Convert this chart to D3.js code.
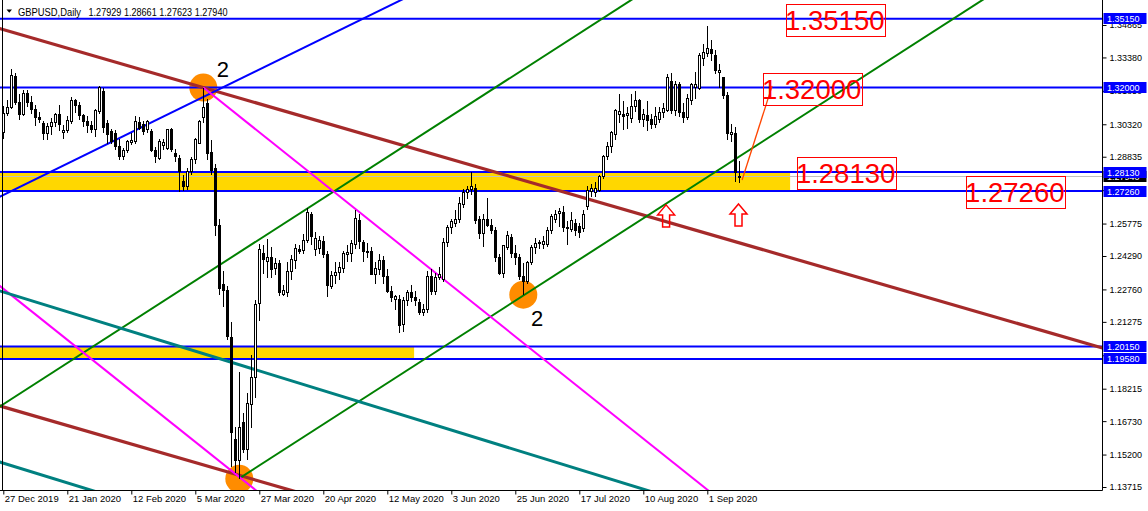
<!DOCTYPE html>
<html><head><meta charset="utf-8">
<script src="https://cdn.jsdelivr.net/npm/d3@7"></script>
<style>
html,body{margin:0;padding:0;background:#fff;}
svg{display:block;}
text{font-family:"Liberation Sans",Arial,sans-serif;}
</style></head><body>
<svg id="chart" width="1148" height="511"></svg>
<script>
// ---------------- DATA ----------------
const symbol = "GBPUSD", timeframe = "Daily";
const openP = [1.2995,1.3080,1.3110,1.3250,1.3130,1.3075,1.3175,1.3130,1.3100,1.3065,
1.3035,1.2990,1.3020,1.3040,1.3075,1.2995,1.3005,1.3045,1.3140,1.3120,
1.3070,1.3045,1.3025,1.3010,1.3090,1.3180,1.3035,1.2998,1.2990,1.2930,
1.2884,1.2911,1.2948,1.2952,1.3040,1.3029,1.3006,1.3000,1.2914,1.2876,
1.2933,1.2922,1.3006,1.2899,1.2876,1.2769,1.2746,1.2815,1.2869,1.2945,
1.3065,1.3128,1.2905,1.2830,1.2570,1.2300,1.2270,1.2054,1.1587,1.1495,
1.1669,1.1541,1.1747,1.1871,1.2210,1.2440,1.2405,1.2420,1.2370,1.2395,
1.2255,1.2260,1.2360,1.2410,1.2460,1.2455,1.2500,1.2620,1.2460,1.2465,
1.2495,1.2435,1.2290,1.2340,1.2355,1.2370,1.2435,1.2440,1.2480,1.2590,
1.2490,1.2450,1.2450,1.2345,1.2365,1.2410,1.2335,1.2265,1.2232,1.2230,
1.2115,1.2225,1.2260,1.2240,1.2215,1.2170,1.2185,1.2335,1.2265,1.2330,
1.2320,1.2490,1.2560,1.2580,1.2595,1.2665,1.2720,1.2735,1.2740,1.2595,
1.2530,1.2595,1.2570,1.2545,1.2420,1.2350,1.2470,1.2515,1.2440,1.2420,
1.2335,1.2310,1.2400,1.2470,1.2485,1.2480,1.2480,1.2544,1.2597,1.2625,
1.2630,1.2560,1.2550,1.2580,1.2565,1.2553,1.2655,1.2722,1.2720,1.2731,
1.2792,1.2884,1.2930,1.2983,1.3075,1.3075,1.3070,1.3060,1.3115,1.3143,
1.3052,1.3070,1.3052,1.3029,1.3052,1.3088,1.3097,1.3230,1.3094,1.3215,
1.3088,1.3062,1.3143,1.3200,1.3198,1.3334,1.3357,1.3376,1.3345,1.3267,
1.3244,1.3162,1.2983,1.2988,1.27929];
const highP = [1.3115,1.3145,1.3284,1.3267,1.3170,1.3190,1.3190,1.3160,1.3120,1.3090,
1.3045,1.3040,1.3060,1.3085,1.3120,1.3030,1.3070,1.3155,1.3150,1.3135,
1.3080,1.3070,1.3045,1.3100,1.3207,1.3200,1.3050,1.3010,1.3005,1.2966,
1.2925,1.2960,1.2990,1.3070,1.3065,1.3045,1.3050,1.3010,1.2930,1.2965,
1.2965,1.3010,1.3015,1.2920,1.2890,1.2800,1.2830,1.2880,1.2970,1.3050,
1.3200,1.3150,1.2960,1.2850,1.2600,1.2360,1.2290,1.2127,1.1646,1.1900,
1.1710,1.1802,1.1976,1.2228,1.2485,1.2480,1.2505,1.2470,1.2420,1.2410,
1.2295,1.2400,1.2435,1.2485,1.2480,1.2530,1.2650,1.2630,1.2540,1.2520,
1.2520,1.2450,1.2360,1.2400,1.2400,1.2450,1.2480,1.2500,1.2640,1.2620,
1.2500,1.2490,1.2470,1.2400,1.2440,1.2430,1.2370,1.2290,1.2250,1.2250,
1.2240,1.2275,1.2295,1.2270,1.2230,1.2210,1.2360,1.2370,1.2350,1.2380,
1.2510,1.2570,1.2600,1.2640,1.2700,1.2735,1.2750,1.2813,1.2760,1.2610,
1.2620,1.2694,1.2600,1.2560,1.2440,1.2480,1.2545,1.2530,1.2480,1.2440,
1.2395,1.2405,1.2480,1.2510,1.2500,1.2520,1.2560,1.2620,1.2640,1.2650,
1.2660,1.2590,1.2630,1.2600,1.2580,1.2640,1.2750,1.2760,1.2770,1.2800,
1.2890,1.2950,1.3000,1.3100,1.3170,1.3140,1.3110,1.3170,1.3185,1.3150,
1.3100,1.3140,1.3080,1.3110,1.3110,1.3130,1.3260,1.3265,1.3230,1.3225,
1.3130,1.3170,1.3220,1.3270,1.3360,1.3400,1.3482,1.3420,1.3370,1.3310,
1.3250,1.3180,1.3035,1.3021,1.28661];
const lowP = [1.2965,1.3070,1.3100,1.3120,1.3050,1.3070,1.3110,1.3080,1.3025,1.3040,
1.2960,1.2960,1.2985,1.3020,1.3000,1.2965,1.2990,1.3035,1.3085,1.3050,
1.3020,1.2990,1.2990,1.2975,1.3080,1.2990,1.2940,1.2940,1.2915,1.2870,
1.2870,1.2900,1.2935,1.2940,1.3005,1.2985,1.2990,1.2905,1.2853,1.2870,
1.2915,1.2915,1.2905,1.2860,1.2724,1.2725,1.2730,1.2800,1.2850,1.2940,
1.3040,1.2870,1.2800,1.2520,1.2250,1.2195,1.2045,1.1463,1.1436,1.1409,
1.1527,1.1495,1.1642,1.1779,1.2130,1.2345,1.2330,1.2330,1.2340,1.2245,
1.2245,1.2240,1.2320,1.2370,1.2440,1.2440,1.2490,1.2480,1.2430,1.2440,
1.2420,1.2240,1.2280,1.2300,1.2320,1.2350,1.2400,1.2400,1.2460,1.2460,
1.2400,1.2420,1.2340,1.2300,1.2340,1.2300,1.2260,1.2220,1.2180,1.2075,
1.2080,1.2200,1.2220,1.2200,1.2160,1.2155,1.2170,1.2250,1.2250,1.2320,
1.2310,1.2470,1.2530,1.2560,1.2580,1.2650,1.2690,1.2710,1.2575,1.2505,
1.2470,1.2560,1.2530,1.2400,1.2340,1.2330,1.2455,1.2420,1.2390,1.2320,
1.2252,1.2300,1.2390,1.2440,1.2460,1.2460,1.2470,1.2530,1.2580,1.2560,
1.2540,1.2480,1.2540,1.2520,1.2510,1.2540,1.2640,1.2700,1.2700,1.2720,
1.2780,1.2870,1.2900,1.2960,1.3040,1.3005,1.3010,1.3040,1.3090,1.3040,
1.3020,1.3000,1.3010,1.3015,1.3040,1.3060,1.3090,1.3080,1.3070,1.3065,
1.3040,1.3050,1.3120,1.3150,1.3190,1.3300,1.3340,1.3320,1.3260,1.3200,
1.3150,1.2960,1.2950,1.2770,1.27623];
const closeP = [1.3080,1.3110,1.3255,1.3130,1.3075,1.3175,1.3130,1.3100,1.3065,1.3055,
1.2990,1.3020,1.3040,1.3075,1.3030,1.3005,1.3050,1.3140,1.3120,1.3070,
1.3045,1.3025,1.3010,1.3095,1.3200,1.3015,1.2985,1.2952,1.2930,1.2884,
1.2911,1.2952,1.2960,1.3044,1.3014,1.2998,1.3044,1.2914,1.2884,1.2952,
1.2948,1.3006,1.2918,1.2884,1.2815,1.2746,1.2815,1.2872,1.2963,1.3047,
1.3110,1.2899,1.2820,1.2570,1.2280,1.2270,1.2060,1.1619,1.1495,1.1642,
1.1541,1.1756,1.1875,1.2209,1.2457,1.2415,1.2420,1.2365,1.2395,1.2264,
1.2270,1.2360,1.2415,1.2465,1.2450,1.2500,1.2626,1.2518,1.2510,1.2500,
1.2435,1.2295,1.2340,1.2355,1.2375,1.2440,1.2443,1.2485,1.2600,1.2495,
1.2450,1.2445,1.2345,1.2370,1.2410,1.2335,1.2265,1.2240,1.2242,1.2113,
1.2225,1.2260,1.2240,1.2225,1.2170,1.2185,1.2335,1.2265,1.2330,1.2345,
1.2490,1.2560,1.2585,1.2595,1.2670,1.2720,1.2735,1.2745,1.2590,1.2530,
1.2595,1.2570,1.2548,1.2420,1.2350,1.2475,1.2525,1.2440,1.2420,1.2335,
1.2310,1.2400,1.2470,1.2485,1.2490,1.2495,1.2545,1.2612,1.2620,1.2633,
1.2560,1.2555,1.2590,1.2545,1.2535,1.2621,1.2728,1.2736,1.2740,1.2792,
1.2884,1.2930,1.2994,1.3094,1.3090,1.3068,1.3080,1.3115,1.3143,1.3052,
1.3075,1.3050,1.3029,1.3067,1.3084,1.3105,1.3244,1.3094,1.3215,1.3088,
1.3065,1.3152,1.3212,1.3215,1.3349,1.3360,1.3380,1.3357,1.3280,1.3280,
1.3162,1.2992,1.2994,1.2810,1.27940];

const dateTickLabels = ["27 Dec 2019","21 Jan 2020","12 Feb 2020","5 Mar 2020","27 Mar 2020","20 Apr 2020","12 May 2020","3 Jun 2020","25 Jun 2020","17 Jul 2020","10 Aug 2020","1 Sep 2020"];
const dateTickBars = [0,16,32,48,64,80,96,112,128,144,160,176];
const priceTicks = [1.34865,1.33380,1.31850,1.30320,1.28835,1.27305,1.25775,1.24290,1.22760,1.21275,1.19745,1.18215,1.16730,1.15200,1.13715];

const hLevels = [1.35150,1.32000,1.28130,1.27260,1.20150,1.19580];
const zoneFrom = [-10,-10], zoneTo = [196.7,102.7], zoneHi = [1.28130,1.20150], zoneLo = [1.27260,1.19580];

// trend lines: two anchors (bar, price)
const trendNames  = ["brownUpper","brownLower","blueDiag","greenUpper","greenLower","magentaA","magentaB","tealA","tealB"];
const trendBarA   = [50, 59, 0, 59, 59, 50, 0, 0, 0];
const trendPriceA = [1.3200,1.1425,1.2708,1.2446,1.1411,1.3200,1.2279,1.2264,1.1481];
const trendBarB   = [250,250,90,200,200,150,59,100,20];
const trendPriceB = [1.2139,1.0412,1.3516,1.4108,1.3073,1.1739,1.1417,1.1700,1.1368];
const trendRayOnly= [false,false,false,false,true,true,false,false,false];

const pivotBars = [50,59,130], pivotPrices = [1.3200,1.1409,1.2252];
const waveText = ["2","2"], waveBars = [53.35,131.9], wavePrices = [1.3247,1.21085];
const boxTexts = ["1.35150","1.32000","1.28130","1.27260"], boxBars = [195.7,189.9,198.4,240.7], boxPrices = [1.35150,1.32000,1.28130,1.27260];
const connBars = [192.2,184.7], connPrices = [1.3208,1.2777];
const arrowBars = [165.7,183.8], arrowPrices = [1.2663,1.2667];

// ---------------- CHART ----------------
const W = 1148, H = 511, plotW = 1102, plotH = 490;
const n = closeP.length;
const svg = d3.select("#chart");
const x = d3.scaleLinear().domain([0, 1]).range([3.3, 7.3]);
const y = d3.scaleLinear().domain([1.13715, 1.34865]).range([487, 25]);

svg.append("defs").append("clipPath").attr("id","plotClip")
  .append("rect").attr("x",0).attr("y",0).attr("width",plotW).attr("height",plotH);
const plot = svg.append("g").attr("clip-path","url(#plotClip)");

// zones
plot.selectAll("rect.zone").data(zoneFrom).join("rect").attr("class","zone")
  .attr("x",(d,i)=>x(zoneFrom[i])).attr("width",(d,i)=>x(zoneTo[i])-x(zoneFrom[i]))
  .attr("y",(d,i)=>y(zoneHi[i])).attr("height",(d,i)=>y(zoneLo[i])-y(zoneHi[i]))
  .attr("fill","#FFD700");

// pivot circles
plot.selectAll("circle.piv").data(pivotBars).join("circle").attr("class","piv")
  .attr("cx",(d,i)=>x(pivotBars[i])).attr("cy",(d,i)=>y(pivotPrices[i])).attr("r",14)
  .attr("fill","#FF8C00");

// horizontal levels
plot.selectAll("line.hl").data(hLevels).join("line").attr("class","hl")
  .attr("x1",0).attr("x2",plotW).attr("y1",d=>y(d)).attr("y2",d=>y(d))
  .attr("stroke","#0000FF").attr("stroke-width",2);

// current price line
const lastClose = closeP[n-1];
plot.append("line").attr("x1",0).attr("x2",plotW).attr("y1",Math.round(y(lastClose))+0.5).attr("y2",Math.round(y(lastClose))+0.5)
  .attr("stroke","#C0C0C0").attr("stroke-width",1);

// trend lines
const trendColor = {brownUpper:"#A52A2A",brownLower:"#A52A2A",blueDiag:"#0000FF",greenUpper:"#008000",greenLower:"#008000",magentaA:"#FF00FF",magentaB:"#FF00FF",tealA:"#008080",tealB:"#008080"};
const trendWidth = {brownUpper:3.2,brownLower:3.2,blueDiag:2,greenUpper:2,greenLower:2,magentaA:2,magentaB:2,tealA:3,tealB:3};
trendNames.forEach((nm,i)=>{
  const slope = (trendPriceB[i]-trendPriceA[i])/(trendBarB[i]-trendBarA[i]);
  const b0 = trendRayOnly[i] ? trendBarA[i] : -20;
  const b1 = 320;
  plot.append("line")
    .attr("x1",x(b0)).attr("y1",y(trendPriceA[i]+slope*(b0-trendBarA[i])))
    .attr("x2",x(b1)).attr("y2",y(trendPriceA[i]+slope*(b1-trendBarA[i])))
    .attr("stroke",trendColor[nm]).attr("stroke-width",trendWidth[nm]);
});

// candles
const cg = plot.append("g").attr("shape-rendering","crispEdges");
const idx = d3.range(n);
cg.selectAll("line.wick").data(idx).join("line").attr("class","wick")
  .attr("x1",i=>Math.round(x(i))+0.5).attr("x2",i=>Math.round(x(i))+0.5)
  .attr("y1",i=>y(highP[i])).attr("y2",i=>y(lowP[i]))
  .attr("stroke","#000").attr("stroke-width",1);
cg.selectAll("rect.body").data(idx).join("rect").attr("class","body")
  .attr("x",i=>Math.round(x(i))-0.5).attr("width",2)
  .attr("y",i=>Math.min(y(openP[i]),y(closeP[i])))
  .attr("height",i=>Math.max(1,Math.abs(y(openP[i])-y(closeP[i]))))
  .attr("fill",i=>closeP[i]>=openP[i]?"#fff":"#000")
  .attr("stroke","#000").attr("stroke-width",1);

// wave labels
plot.selectAll("text.wave").data(waveText).join("text").attr("class","wave")
  .attr("x",(d,i)=>x(waveBars[i])).attr("y",(d,i)=>y(wavePrices[i]))
  .attr("font-size",22).attr("fill","#000").text(d=>d);

// connector line
plot.append("line").attr("x1",x(connBars[0])).attr("y1",y(connPrices[0]))
  .attr("x2",x(connBars[1])).attr("y2",y(connPrices[1]))
  .attr("stroke","#FF4500").attr("stroke-width",1.3);

// boxed price texts
boxTexts.forEach((t,i)=>{
  const bx = x(boxBars[i]), by = y(boxPrices[i]) - 15;
  plot.append("rect").attr("x",Math.round(bx)+0.5).attr("y",Math.round(by)+0.5).attr("width",99).attr("height",32)
    .attr("fill","none").attr("stroke","#FF0000").attr("stroke-width",1);
  plot.append("text").attr("x",bx-1).attr("y",by+26).attr("font-size",27.5).attr("fill","#FF0000").text(t);
});

// arrows (hollow up arrows)
const arrowPath = "M0,0 L8.5,10 L3.5,10 L3.5,22 L-3.5,22 L-3.5,10 L-8.5,10 Z";
plot.selectAll("path.arr").data(arrowBars).join("path").attr("class","arr")
  .attr("transform",(d,i)=>`translate(${x(arrowBars[i])},${y(arrowPrices[i])})`)
  .attr("d",arrowPath).attr("fill","none").attr("stroke","#FF0000").attr("stroke-width",1.5);

// frame
svg.append("line").attr("x1",2.5).attr("x2",2.5).attr("y1",0).attr("y2",plotH).attr("stroke","#000");
svg.append("line").attr("x1",0).attr("x2",plotW+0.5).attr("y1",plotH+0.5).attr("y2",plotH+0.5).attr("stroke","#000");
svg.append("line").attr("x1",plotW+0.5).attr("x2",plotW+0.5).attr("y1",0).attr("y2",plotH+0.5).attr("stroke","#000");

// right axis
const yAxis = d3.axisRight(y).tickValues(priceTicks).tickSize(4).tickPadding(3).tickFormat(d3.format(".5f"));
const ya = svg.append("g").attr("transform",`translate(${plotW+0.5},0)`).call(yAxis);
ya.select(".domain").remove();
ya.selectAll("text").attr("font-family","Liberation Sans, Arial, sans-serif").attr("font-size",9).attr("fill","#000");
ya.selectAll("line").attr("stroke","#000");

// bottom axis
const xAxis = d3.axisBottom(x).tickValues(dateTickBars).tickSize(4).tickFormat((d,i)=>dateTickLabels[i]);
const xa = svg.append("g").attr("transform",`translate(0,${plotH+0.5})`).call(xAxis);
xa.select(".domain").remove();
xa.selectAll("line").attr("stroke","#000");
xa.selectAll("text").attr("text-anchor","start").attr("dx",1).attr("y",5)
  .attr("font-family","Liberation Sans, Arial, sans-serif").attr("font-size",9.5).attr("fill","#000");

// price tags on right axis
const fmt5 = d3.format(".5f");
function tag(p, fill){
  const cy = y(p);
  svg.append("rect").attr("x",plotW+1.5).attr("y",Math.round(cy-5.5)).attr("width",43).attr("height",11).attr("fill",fill);
  svg.append("text").attr("x",plotW+5).attr("y",Math.round(cy-5.5)+9).attr("font-size",9).attr("fill","#fff").text(fmt5(p));
}
tag(lastClose,"#000");
hLevels.forEach(p=>tag(p,"#0000FF"));

// header
svg.append("path").attr("d","M6.5,9.5 L12,9.5 L9.25,12.8 Z").attr("fill","#000");
svg.append("text").attr("x",18).attr("y",15.5).attr("font-size",10.5).attr("fill","#000")
  .attr("textLength",63).attr("lengthAdjust","spacingAndGlyphs").text(`${symbol},${timeframe}`);
svg.append("text").attr("x",88.5).attr("y",15.5).attr("font-size",10.5).attr("fill","#000")
  .attr("textLength",139).attr("lengthAdjust","spacingAndGlyphs")
  .text([openP[n-1],highP[n-1],lowP[n-1],closeP[n-1]].map(fmt5).join(" "));
</script>
</body></html>
